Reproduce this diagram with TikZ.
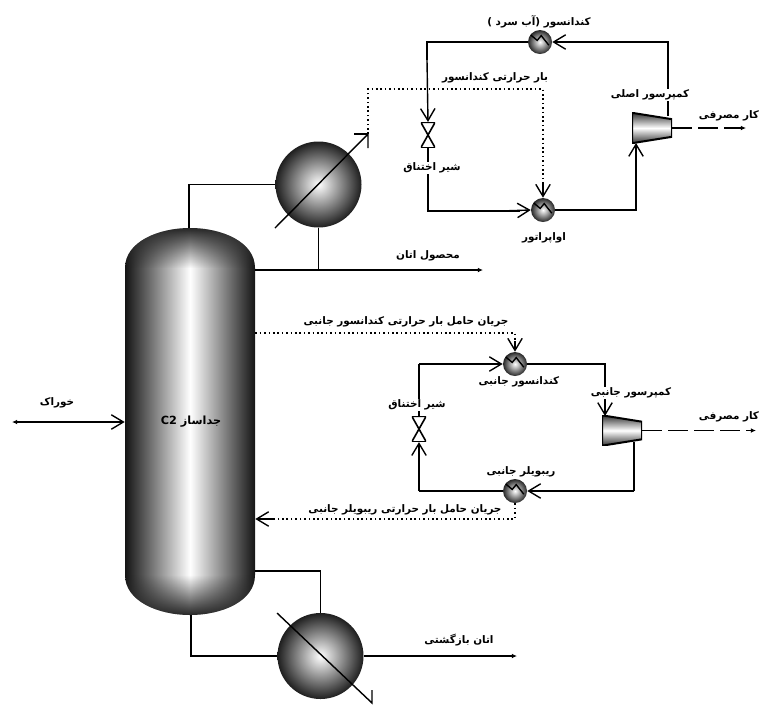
\documentclass[tikz,border=0pt]{standalone}
\usepackage{fontspec}
\usetikzlibrary{arrows.meta,fadings}
\newfontfamily\arabicfont[Script=Arabic]{DejaVu Sans}
\TeXXeTstate=1
\newcommand{\fa}[1]{{\arabicfont\bfseries\beginR #1\endR}}
\begin{document}
\begin{tikzpicture}[x=0.25mm,y=-0.25mm,
  pipe/.style={draw, line width=0.35mm},
  into/.style={pipe, -{Straight Barb[length=3mm,width=3.6mm,line width=0.35mm]}},
  outlet/.style={pipe, -{Latex[length=1.3mm,width=1.2mm]}},
  feed/.style={pipe, {Latex[length=1.3mm,width=1.2mm]}-{Straight Barb[length=3mm,width=3.6mm,line width=0.35mm]}},
  duty/.style={draw, line width=0.4mm, dotted},
  work/.style={draw, line width=0.35mm, dash pattern=on 5mm off 1.5mm, -{Latex[length=1.3mm,width=1.2mm]}},
  lbl/.style={font=\fontsize{7.4pt}{9pt}\selectfont, inner sep=0.5pt},
  bighx/.style={circle, minimum size=21.5mm, inner sep=0pt, shading=radial, inner color=white, outer color=black!88},
  smallhx/.style={circle, minimum size=6mm, inner sep=0pt, shading=radial, inner color=white, outer color=black!85,
    path picture={\draw[line width=0.35mm] ([shift={(-2.6mm,2mm)}]path picture bounding box.center)
      -- ++(1.9mm,-1.6mm) -- ++(1mm,1.2mm) -- ++(1.9mm,-2.4mm);}},
  valve/.style={minimum width=3.6mm, minimum height=6.4mm, inner sep=0pt,
    path picture={\draw[line width=0.4mm] (path picture bounding box.north west)
      -- (path picture bounding box.north east) -- (path picture bounding box.south west)
      -- (path picture bounding box.south east) -- cycle;}},
  compr/.style={minimum width=10mm, minimum height=7.6mm, inner sep=0pt,
    path picture={\shade[draw=black, line width=0.5mm, top color=black!80, bottom color=black!80, middle color=white]
      (path picture bounding box.north west) -- ([yshift=-1.6mm]path picture bounding box.north east)
      -- ([yshift=1.6mm]path picture bounding box.south east) -- (path picture bounding box.south west) -- cycle;}}]
\useasboundingbox (0,0) rectangle (761,705);
\shade[left color=black!92, right color=black!92, middle color=white]
  (125,268) .. controls (125,242) and (158,228) .. (190,228)
  .. controls (222,228) and (255,242) .. (255,268) -- (255,575)
  .. controls (255,601) and (222,615) .. (190,615)
  .. controls (158,615) and (125,601) .. (125,575) -- cycle;
\fill[black!85, path fading=south]
  (125,268) .. controls (125,242) and (158,228) .. (190,228)
  .. controls (222,228) and (255,242) .. (255,268) -- cycle;
\fill[black!85, path fading=north]
  (255,575) .. controls (255,601) and (222,615) .. (190,615)
  .. controls (158,615) and (125,601) .. (125,575) -- cycle;
\node[minimum width=32.5mm, minimum height=96.75mm, inner sep=0pt] (column) at (190,421.5) {};
\node[lbl, font=\fontsize{8pt}{9pt}\selectfont] (columnlabel) at (191,422) {\fa{جداساز \beginL C2\endL}};
\node[bighx] (tophx) at (318.5,184.5) {};
\node[bighx] (bothx) at (320.5,656) {};
\node[smallhx] (cond1) at (540,42) {};
\node[smallhx] (evap1) at (543,210) {};
\node[smallhx] (cond2) at (515,364) {};
\node[smallhx] (reb2) at (515,491) {};
\node[valve] (valve1) at (428,135) {};
\node[valve] (valve2) at (419,429) {};
\node[compr] (comp1) at (652,128) {};
\node[compr] (comp2) at (622,430.5) {};
\coordinate (feedin) at (12,422);
\coordinate (ethout) at (483,270);
\coordinate (retout) at (517,656);
\coordinate (work1) at (746,128);
\coordinate (work2) at (756,430.5);
\draw[line width=0.35mm] (275,228) -- (368,134) -- (368,148);
\draw[line width=0.35mm] (368,134) -- (354,134);
\draw[line width=0.35mm] (277,613) -- (372,703) -- (372,690);
\draw[feed] (feedin) -- (column.west |- feedin);
\draw[pipe] (189,228) |- (tophx.west);
\draw[pipe] (tophx.south) |- (column.east |- ethout);
\draw[outlet] (tophx.south |- ethout) -- (ethout);
\draw[pipe] (255,571) -| (bothx.north);
\draw[pipe] (191,615) |- (bothx.west);
\draw[outlet] (bothx.east) -- (retout);
\draw[into] (668,116) |- (cond1.east);
\draw[pipe] (cond1.west) -| (427,60);
\draw[into] (427,60) -- (valve1.north);
\draw[pipe] (valve1.south) -- (428,180) |- (520,211);
\draw[into] (500,211) -- (evap1.west);
\draw[pipe] (evap1.east) -| (636,170);
\draw[into] (636,170) -- (636,143);
\draw[work] (comp1.east) -- (work1);
\draw[duty] (368,134) -- (368,89) -- (543,89) -- (543,183);
\draw[into] (543,183) -- (evap1.north);
\draw[duty] (column.east |- 0,333) -- (515,333) -- (515,341);
\draw[into] (515,341) -- (cond2.north);
\draw[into] (419,364) -- (cond2.west);
\draw[pipe] (419,364) -- (valve2.north);
\draw[into] (419,491) -- (valve2.south);
\draw[pipe] (419,491) -- (reb2.west);
\draw[into] (634,491) -- (reb2.east);
\draw[pipe] (634,491) -- (634,442);
\draw[pipe] (cond2.east) -| (605,385);
\draw[into] (605,385) -- (605,416);
\draw[work] (comp2.east) -- (work2);
\draw[duty] (reb2.south) -- (515,519) -- (275,519);
\draw[into] (275,519) -- (column.east |- 0,519);
\node[lbl] (feedlabel) at (57,403) {\fa{خوراک}};
\node[lbl] (ethlabel) at (428,256) {\fa{محصول اتان}};
\node[lbl] (retlabel) at (459,640) {\fa{اتان بازگشتی}};
\node[lbl] (cond1label) at (539,22) {\fa{کندانسور (آب سرد )}};
\node[lbl] (duty1label) at (495,78) {\fa{بار حرارتی کندانسور}};
\node[lbl, fill=white] (comp1label) at (650,95) {\fa{کمپرسور اصلی}};
\node[lbl] (work1label) at (729,116) {\fa{کار مصرفی}};
\node[lbl, fill=white] (valve1label) at (432,168) {\fa{شیر اختناق}};
\node[lbl] (evap1label) at (544,238) {\fa{اواپراتور}};
\node[lbl] (duty2label) at (406,322) {\fa{جریان حامل بار حرارتی کندانسور جانبی}};
\node[lbl] (cond2label) at (519,382) {\fa{کندانسور جانبی}};
\node[lbl, fill=white] (comp2label) at (631,393) {\fa{کمپرسور جانبی}};
\node[lbl, fill=white] (valve2label) at (417,405) {\fa{شیر اختناق}};
\node[lbl] (work2label) at (729,417) {\fa{کار مصرفی}};
\node[lbl] (reb2label) at (521,472) {\fa{ریبویلر جانبی}};
\node[lbl] (duty3label) at (405,510) {\fa{جریان حامل بار حرارتی ریبویلر جانبی}};
\end{tikzpicture}
\end{document}
